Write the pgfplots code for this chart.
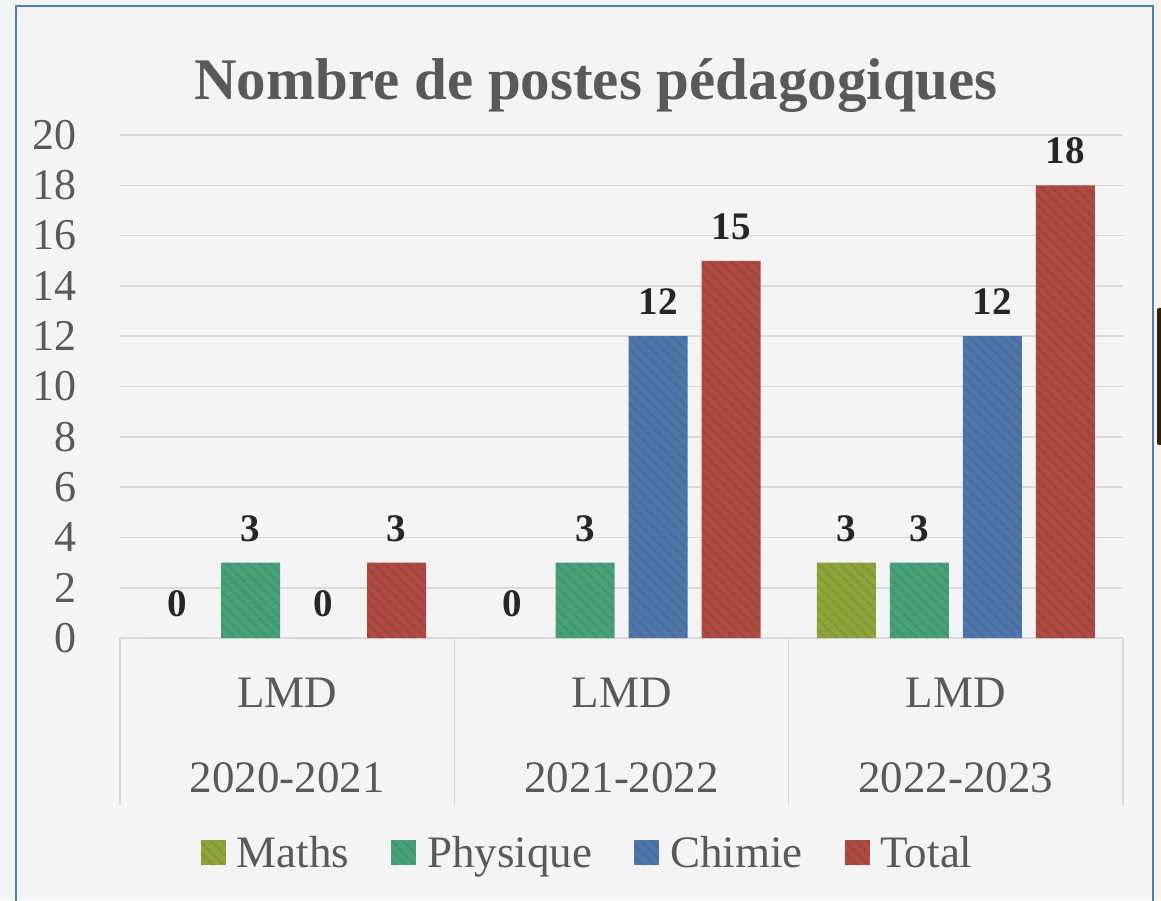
\documentclass[border=0pt]{standalone}
\usepackage{fontspec}
\setmainfont{Liberation Serif}
\usepackage{pgfplots}
\pgfplotsset{compat=1.18}
\usetikzlibrary{patterns.meta}
\definecolor{cMaths}{HTML}{8FA33B}
\definecolor{cPhys}{HTML}{48A078}
\definecolor{cChim}{HTML}{4E76AA}
\definecolor{cTotal}{HTML}{AE4A42}
\definecolor{labC}{HTML}{595959}
\definecolor{valC}{HTML}{262626}
\definecolor{gridC}{HTML}{D9D9D9}
\definecolor{bgC}{HTML}{F4F4F4}
\definecolor{frameC}{HTML}{4F7DB5}
\tikzset{stripes/.style={postaction={pattern={Lines[angle=-45,distance=4pt,line width=1.3pt]},
  pattern color=black, fill opacity=0.07}}}
\begin{document}
\begin{tikzpicture}
\useasboundingbox (0,0) rectangle (580.5pt,450pt);
\fill[bgC] (0,0) rectangle (580.5pt,450pt);
\draw[frameC, line width=1pt] (8pt,-2pt) -- (8pt,447pt) -- (576.5pt,447pt) -- (576.5pt,-2pt);
\fill[black!75!brown, rounded corners=1pt] (578.5pt,227.5pt) rectangle (582pt,296pt);
\begin{axis}[
  at={(60pt,131pt)}, anchor=south west,
  scale only axis, width=501.5pt, height=251.5pt,
  xmin=-0.5, xmax=2.5, ymin=0, ymax=20,
  ytick={0,2,...,20},
  xtick={0,1,2},
  xticklabels={LMD\\2020-2021, LMD\\2021-2022, LMD\\2022-2023},
  xticklabel style={align=center, anchor=north, inner sep=0pt, yshift=-20pt,
    font=\fontsize{22.5}{42.5}\selectfont, text=labC},
  yticklabel style={anchor=east, inner sep=0pt, xshift=-21.5pt,
    font=\fontsize{22}{26}\selectfont, text=labC},
  /pgf/number format/assume math mode=true,
  major tick length=0pt,
  axis x line*=bottom, axis y line*=left,
  axis line style={draw=none},
  ymajorgrids, grid style={gridC, line width=0.8pt},
  clip=false,
  ybar, bar width=29.5pt,
  nodes near coords={\pgfmathprintnumber[assume math mode=true]{\pgfplotspointmeta}},
  every node near coord/.append style={font=\bfseries\fontsize{19.5}{24}\selectfont,
    text=valC, anchor=base, yshift=10.75pt},
  legend image code/.code={\fill[#1] (0pt,-6.25pt) rectangle (12.5pt,6.25pt);},
  legend columns=4,
  legend style={at={(0.4706,-0.4274)}, anchor=center, draw=none, fill=none,
    font=\fontsize{22.5}{27}\selectfont, text=labC,
    nodes={inner sep=5.5pt},
    /tikz/every even column/.append style={column sep=15.5pt}},
  title={Nombre de postes pédagogiques},
  title style={font=\bfseries\fontsize{29.5}{34}\selectfont, text=labC,
    at={(0.4746,1)}, anchor=base, yshift=11.5pt},
]
\addplot[fill=cMaths, draw=none, bar shift=-54.75pt, stripes]
  coordinates {(0,0) (1,0) (2,3)};
\addplot[fill=cPhys, draw=none, bar shift=-18.25pt, stripes]
  coordinates {(0,3) (1,3) (2,3)};
\addplot[fill=cChim, draw=none, bar shift=18.25pt, stripes]
  coordinates {(0,0) (1,12) (2,12)};
\addplot[fill=cTotal, draw=none, bar shift=54.75pt, stripes]
  coordinates {(0,3) (1,15) (2,18)};
\legend{Maths, Physique, Chimie, Total}
\draw[gridC, line width=0.8pt] (axis cs:-0.5,0) -- ++(0pt,-83.5pt);
\draw[gridC, line width=0.8pt] (axis cs:0.5,0) -- ++(0pt,-83.5pt);
\draw[gridC, line width=0.8pt] (axis cs:1.5,0) -- ++(0pt,-83.5pt);
\draw[gridC, line width=0.8pt] (axis cs:2.5,0) -- ++(0pt,-83.5pt);
\end{axis}
\end{tikzpicture}
\end{document}
